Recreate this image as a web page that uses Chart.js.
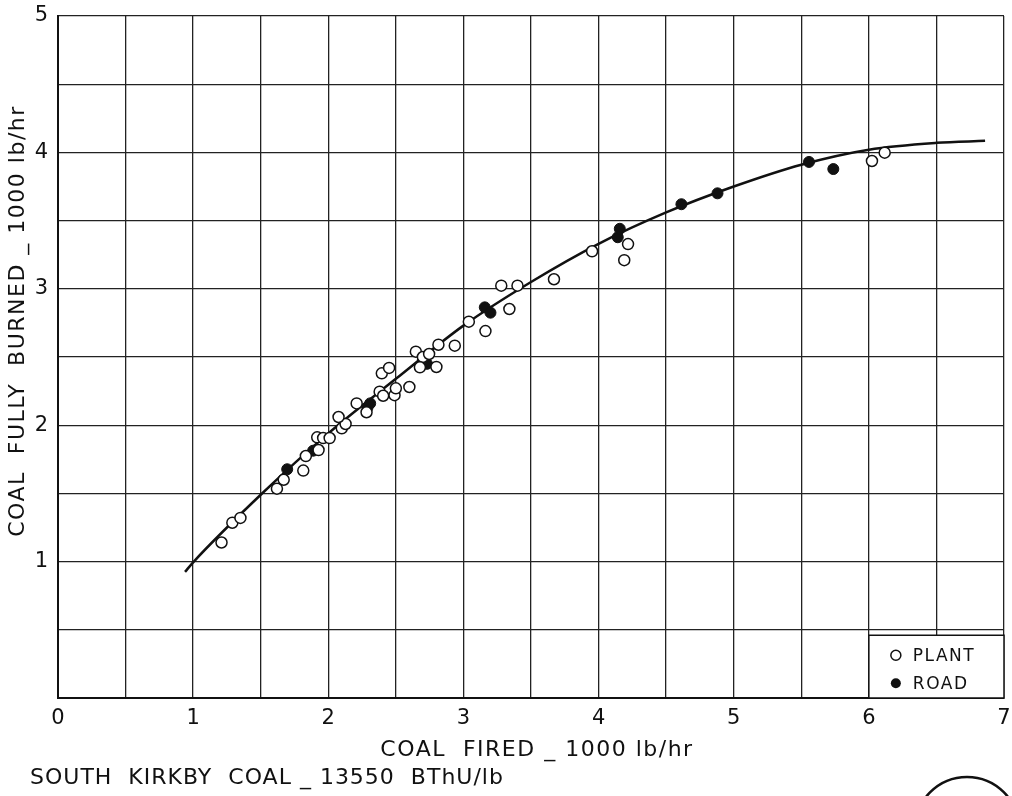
<!DOCTYPE html>
<html>
<head>
<meta charset="utf-8">
<script src="https://cdn.jsdelivr.net/npm/chart.js@4"></script>
<style>
  html, body { margin: 0; padding: 0; background: #fff; }
  #wrap { width: 1012px; height: 796px; }
</style>
</head>
<body>
<div id="wrap"><canvas id="chart" width="1012" height="796"></canvas></div>
<script>
// fitted curve
const curveX = [0.94, 1.0, 1.5, 2.0, 2.5, 3.0, 3.5, 4.0, 4.5, 5.0, 5.5, 6.0, 6.5, 6.86];
const curveY = [0.925, 0.995, 1.49, 1.94, 2.34, 2.73, 3.05, 3.33, 3.56, 3.75, 3.91, 4.02, 4.07, 4.085];

// PLANT (open circles)
const plantX = [1.21, 1.29, 1.35, 1.62, 1.67, 1.815, 1.834, 1.928, 1.918, 1.962, 2.01, 2.10, 2.128, 2.076,
  2.21, 2.283, 2.38, 2.406, 2.49, 2.50, 2.60, 2.396, 2.45, 2.648, 2.70, 2.678, 2.746, 2.815, 2.80, 2.936,
  3.04, 3.163, 3.34, 3.28, 3.40, 3.67, 3.952, 4.218, 4.19, 6.023, 6.117];
const plantY = [1.14, 1.285, 1.32, 1.535, 1.60, 1.667, 1.774, 1.818, 1.911, 1.906, 1.906, 1.977, 2.009, 2.06,
  2.16, 2.095, 2.246, 2.216, 2.22, 2.27, 2.28, 2.38, 2.42, 2.539, 2.50, 2.424, 2.522, 2.59, 2.427, 2.583,
  2.759, 2.69, 2.852, 3.023, 3.023, 3.07, 3.275, 3.328, 3.21, 3.937, 3.998];

// ROAD (filled circles)
const roadX = [1.696, 1.888, 2.29, 2.31, 2.70, 2.73, 3.158, 3.20, 4.142, 4.157, 4.613, 4.88, 5.557, 5.737];
const roadY = [1.677, 1.813, 2.13, 2.16, 2.48, 2.45, 2.864, 2.825, 3.378, 3.44, 3.62, 3.70, 3.93, 3.878];

const xTitle = "COAL  FIRED _ 1000 lb/hr";
const yTitle = "COAL  FULLY  BURNED _ 1000 lb/hr";
const footNote = "SOUTH  KIRKBY  COAL _ 13550  BThU/lb";
const legendNames = ["PLANT", "ROAD"];

const FONT = "'DejaVu Sans', sans-serif";
const ink = "#111";

const pts = (xs, ys) => xs.map((x, i) => ({ x: x, y: ys[i] }));

const decor = {
  id: "decor",
  afterDatasetsDraw(chart) {
    const ctx = chart.ctx;
    const xs = chart.scales.x, ys = chart.scales.y;
    // legend box in the lower right cell
    const l = xs.getPixelForValue(6), r = xs.getPixelForValue(7);
    const t = ys.getPixelForValue(0.46), b = ys.getPixelForValue(0);
    ctx.save();
    ctx.fillStyle = "#fff";
    ctx.fillRect(l, t, r - l, b - t);
    ctx.strokeStyle = ink;
    ctx.lineWidth = 1.5;
    ctx.strokeRect(l, t, r - l, b - t);
    ctx.font = "17px " + FONT;
    ctx.textBaseline = "middle";
    ctx.fillStyle = ink;
    const mx = l + 27;
    [t + 20, t + 48].forEach((yy, i) => {
      ctx.beginPath();
      ctx.arc(mx, yy, 5, 0, Math.PI * 2);
      if (i === 0) { ctx.fillStyle = "#fff"; ctx.fill(); ctx.lineWidth = 1.5; ctx.stroke(); }
      else { ctx.fillStyle = ink; ctx.fill(); }
      ctx.fillStyle = ink;
      ctx.letterSpacing = "1.5px";
      ctx.fillText(legendNames[i], mx + 17, yy + 1);
    });
    ctx.restore();
  },
  afterDraw(chart) {
    const ctx = chart.ctx;
    ctx.save();
    ctx.fillStyle = ink;
    ctx.font = "22px " + FONT;
    ctx.letterSpacing = "1.5px";
    ctx.textAlign = "center";
    ctx.textBaseline = "middle";
    ctx.fillText(xTitle, 537, 750);
    ctx.translate(18, 321);
    ctx.rotate(-Math.PI / 2);
    ctx.fillText(yTitle, 0, 0);
    ctx.restore();
    ctx.save();
    ctx.fillStyle = ink;
    ctx.font = "22px " + FONT;
    ctx.letterSpacing = "1px";
    ctx.textBaseline = "middle";
    ctx.fillText(footNote, 30, 778);
    ctx.restore();
    // part of a circled mark at bottom right
    ctx.save();
    ctx.strokeStyle = ink;
    ctx.lineWidth = 2.5;
    ctx.beginPath();
    ctx.arc(967, 829, 52, Math.PI, Math.PI * 2);
    ctx.stroke();
    ctx.restore();
  }
};

new Chart(document.getElementById("chart"), {
  type: "scatter",
  data: {
    datasets: [
      {
        label: "PLANT",
        data: pts(plantX, plantY),
        pointRadius: 5.5,
        pointBackgroundColor: "#fff",
        pointBorderColor: ink,
        pointBorderWidth: 1.5,
        order: 0
      },
      {
        label: "ROAD",
        data: pts(roadX, roadY),
        pointRadius: 5.5,
        pointBackgroundColor: ink,
        pointBorderColor: ink,
        pointBorderWidth: 1,
        order: 1
      },
      {
        label: "curve",
        data: pts(curveX, curveY),
        showLine: true,
        pointRadius: 0,
        borderColor: ink,
        borderWidth: 2.5,
        cubicInterpolationMode: "monotone",
        order: 2
      }
    ]
  },
  options: {
    responsive: false,
    animation: false,
    layout: { padding: { left: 0, right: 8, top: 16, bottom: 0 } },
    plugins: { legend: { display: false }, tooltip: { enabled: false } },
    scales: {
      x: {
        type: "linear",
        min: 0,
        max: 7,
        afterFit: (s) => { s.height = 98; s.paddingLeft = 0; s.paddingRight = 0; },
        ticks: {
          stepSize: 0.5,
          autoSkip: false,
          maxRotation: 0,
          padding: 8,
          color: ink,
          font: { family: FONT, size: 21 },
          callback: (v) => (v % 1 === 0 ? String(v) : "")
        },
        grid: { color: "#222", lineWidth: 1.3, drawTicks: false },
        border: { color: ink, width: 2 }
      },
      y: {
        type: "linear",
        min: 0,
        max: 5,
        afterFit: (s) => { s.width = 58; s.paddingTop = 0; s.paddingBottom = 0; },
        ticks: {
          stepSize: 0.5,
          autoSkip: false,
          padding: 10,
          color: ink,
          font: { family: FONT, size: 21 },
          callback: (v) => (v % 1 === 0 && v > 0 ? String(v) : "")
        },
        grid: { color: "#222", lineWidth: 1.3, drawTicks: false },
        border: { color: ink, width: 2 }
      }
    }
  },
  plugins: [decor]
});
</script>
</body>
</html>
